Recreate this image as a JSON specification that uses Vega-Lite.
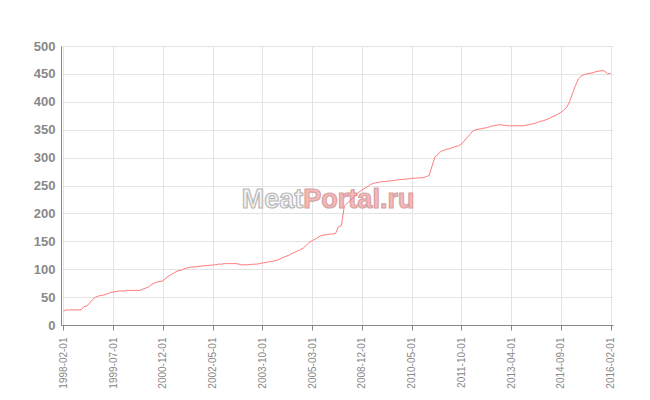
{
  "$schema": "https://vega.github.io/schema/vega-lite/v6.json",
  "width": 552,
  "height": 279,
  "autosize": {"type": "none"},
  "padding": {"left": 61, "top": 46, "right": 37, "bottom": 75},
  "background": "white",
  "config": {"view": {"stroke": null}, "font": "Liberation Sans"},
  "datasets": {
    "series": [
      {"d":"1998-02-01","v":25},{"d":"1998-03-01","v":27},{"d":"1998-04-01","v":27},{"d":"1998-05-01","v":27},{"d":"1998-06-01","v":27},{"d":"1998-07-01","v":27},{"d":"1998-08-01","v":27},{"d":"1998-09-01","v":33},{"d":"1998-10-01","v":34},{"d":"1998-11-01","v":40},{"d":"1998-12-01","v":46},
      {"d":"1999-01-01","v":50},{"d":"1999-02-01","v":52},{"d":"1999-03-01","v":53},{"d":"1999-04-01","v":54},{"d":"1999-05-01","v":56},{"d":"1999-06-01","v":58},{"d":"1999-07-01","v":59},{"d":"1999-08-01","v":60},{"d":"1999-09-01","v":61},{"d":"1999-10-01","v":61},{"d":"1999-11-01","v":61},{"d":"1999-12-01","v":62},
      {"d":"2000-01-01","v":62},{"d":"2000-02-01","v":62},{"d":"2000-03-01","v":62},{"d":"2000-04-01","v":62},{"d":"2000-05-01","v":64},{"d":"2000-06-01","v":66},{"d":"2000-07-01","v":68},{"d":"2000-08-01","v":72},{"d":"2000-09-01","v":75},{"d":"2000-10-01","v":77},{"d":"2000-11-01","v":78},{"d":"2000-12-01","v":79},
      {"d":"2001-01-01","v":84},{"d":"2001-02-01","v":88},{"d":"2001-03-01","v":91},{"d":"2001-04-01","v":94},{"d":"2001-05-01","v":97},{"d":"2001-06-01","v":98},{"d":"2001-07-01","v":100},{"d":"2001-08-01","v":102},{"d":"2001-09-01","v":103},{"d":"2001-10-01","v":104},{"d":"2001-11-01","v":104},{"d":"2001-12-01","v":105},
      {"d":"2002-01-01","v":105.5},{"d":"2002-02-01","v":106},{"d":"2002-03-01","v":106.5},{"d":"2002-04-01","v":107},{"d":"2002-05-01","v":107.5},{"d":"2002-06-01","v":108},{"d":"2002-07-01","v":109},{"d":"2002-08-01","v":109},{"d":"2002-09-01","v":110},{"d":"2002-10-01","v":110},{"d":"2002-11-01","v":110},{"d":"2002-12-01","v":110},
      {"d":"2003-01-01","v":110},{"d":"2003-02-01","v":109},{"d":"2003-03-01","v":107.5},{"d":"2003-04-01","v":108},{"d":"2003-05-01","v":108},{"d":"2003-06-01","v":108.5},{"d":"2003-07-01","v":109},{"d":"2003-08-01","v":109},{"d":"2003-09-01","v":110},{"d":"2003-10-01","v":111},{"d":"2003-11-01","v":112},{"d":"2003-12-01","v":113},
      {"d":"2004-01-01","v":114},{"d":"2004-02-01","v":115},{"d":"2004-03-01","v":116},{"d":"2004-04-01","v":118.5},{"d":"2004-05-01","v":121},{"d":"2004-06-01","v":123},{"d":"2004-07-01","v":125},{"d":"2004-08-01","v":128},{"d":"2004-09-01","v":130},{"d":"2004-10-01","v":133},{"d":"2004-11-01","v":135},{"d":"2004-12-01","v":138},
      {"d":"2005-01-01","v":143},{"d":"2005-02-01","v":148},{"d":"2005-03-01","v":151},{"d":"2005-04-01","v":154},{"d":"2005-05-01","v":157},{"d":"2005-06-01","v":160},{"d":"2005-07-01","v":161},{"d":"2005-08-01","v":162},{"d":"2005-09-01","v":163},{"d":"2005-10-01","v":163},{"d":"2005-11-01","v":164},{"d":"2005-12-01","v":176},
      {"d":"2006-01-01","v":178},
      {"d":"2008-06-01","v":213},{"d":"2008-07-01","v":218},{"d":"2008-08-01","v":223},{"d":"2008-09-01","v":228},{"d":"2008-10-01","v":233},{"d":"2008-11-01","v":238},{"d":"2008-12-01","v":242},
      {"d":"2009-01-01","v":245},{"d":"2009-02-01","v":248},{"d":"2009-03-01","v":252},{"d":"2009-04-01","v":254},{"d":"2009-05-01","v":255},{"d":"2009-06-01","v":256},{"d":"2009-07-01","v":257},{"d":"2009-08-01","v":257},{"d":"2009-09-01","v":258},{"d":"2009-10-01","v":258.5},{"d":"2009-11-01","v":259},{"d":"2009-12-01","v":260},
      {"d":"2010-01-01","v":260.5},{"d":"2010-02-01","v":261},{"d":"2010-03-01","v":261.5},{"d":"2010-04-01","v":262},{"d":"2010-05-01","v":263},{"d":"2010-06-01","v":263},{"d":"2010-07-01","v":263.5},{"d":"2010-08-01","v":264},{"d":"2010-09-01","v":264},{"d":"2010-10-01","v":266},{"d":"2010-11-01","v":268},{"d":"2010-12-01","v":285},
      {"d":"2011-01-01","v":301},{"d":"2011-02-01","v":306},{"d":"2011-03-01","v":311},{"d":"2011-04-01","v":313},{"d":"2011-05-01","v":315},{"d":"2011-06-01","v":316},{"d":"2011-07-01","v":318},{"d":"2011-08-01","v":320},{"d":"2011-09-01","v":321},{"d":"2011-10-01","v":324},{"d":"2011-11-01","v":330},{"d":"2011-12-01","v":336},
      {"d":"2012-01-01","v":342},{"d":"2012-02-01","v":348},{"d":"2012-03-01","v":350},{"d":"2012-04-01","v":351},{"d":"2012-05-01","v":352},{"d":"2012-06-01","v":353},{"d":"2012-08-01","v":354},{"d":"2012-09-01","v":356},{"d":"2012-10-01","v":357},{"d":"2012-11-01","v":358},{"d":"2012-12-01","v":359},
      {"d":"2013-01-01","v":358.5},{"d":"2013-02-01","v":357.5},{"d":"2013-03-01","v":357},{"d":"2013-04-01","v":357},{"d":"2013-05-01","v":357},{"d":"2013-06-01","v":357},{"d":"2013-07-01","v":357},{"d":"2013-08-01","v":357},{"d":"2013-09-01","v":358},{"d":"2013-10-01","v":359},{"d":"2013-11-01","v":360},{"d":"2013-12-01","v":361},
      {"d":"2014-01-01","v":363},{"d":"2014-02-01","v":365},{"d":"2014-03-01","v":366},{"d":"2014-04-01","v":368},{"d":"2014-05-01","v":370},{"d":"2014-06-01","v":373},{"d":"2014-07-01","v":375},{"d":"2014-08-01","v":378},{"d":"2014-09-01","v":381},{"d":"2014-10-01","v":385},{"d":"2014-11-01","v":390},{"d":"2014-12-01","v":400},
      {"d":"2015-01-01","v":415},{"d":"2015-02-01","v":429},{"d":"2015-03-01","v":441},{"d":"2015-04-01","v":446},{"d":"2015-05-01","v":449},{"d":"2015-06-01","v":450},{"d":"2015-07-01","v":451},{"d":"2015-08-01","v":452},{"d":"2015-09-01","v":454},{"d":"2015-10-01","v":455},{"d":"2015-11-01","v":456},{"d":"2015-12-01","v":455},
      {"d":"2016-01-01","v":450},{"d":"2016-02-01","v":451}
    ]
  },
  "data": {"name": "series"},
  "encoding": {
    "x": {
      "field": "d",
      "type": "ordinal",
      "sort": "ascending",
      "scale": {"type": "point", "padding": 0.85},
      "axis": {
        "title": null,
        "values": ["1998-02-01","1999-07-01","2000-12-01","2002-05-01","2003-10-01","2005-03-01","2008-12-01","2010-05-01","2011-10-01","2013-04-01","2014-09-01","2016-02-01"],
        "labelAngle": -90,
        "labelFontSize": 10,
        "labelColor": "#888888",
        "tickColor": "#888888",
        "domainColor": "#888888",
        "tickSize": 5,
        "labelPadding": 7,
        "grid": true,
        "gridColor": "#e3e3e3"
      }
    },
    "y": {
      "field": "v",
      "type": "quantitative",
      "scale": {"domain": [0, 500], "nice": false},
      "axis": {
        "title": null,
        "values": [0, 50, 100, 150, 200, 250, 300, 350, 400, 450, 500],
        "labelFontSize": 13,
        "labelFontWeight": "bold",
        "labelColor": "#888888",
        "ticks": false,
        "labelPadding": 6,
        "domainColor": "#888888",
        "grid": true,
        "gridColor": "#e3e3e3"
      }
    }
  },
  "layer": [
    {
      "transform": [{"filter": "datum.d == '2004-12-01'"}],
      "mark": {"type": "text", "align": "right", "baseline": "middle", "fontSize": 27, "fontWeight": "bold", "font": "Liberation Sans", "fill": "#f4f4f4", "stroke": "#b8b8b8", "strokeWidth": 1.2},
      "encoding": {
        "y": {"datum": 224, "type": "quantitative"},
        "text": {"value": "Meat"}
      }
    },
    {
      "transform": [{"filter": "datum.d == '2004-12-01'"}],
      "mark": {"type": "text", "align": "left", "baseline": "middle", "fontSize": 27, "fontWeight": "bold", "font": "Liberation Sans", "fill": "#f9b8b8", "stroke": "#d4a4a4", "strokeWidth": 1.2},
      "encoding": {
        "y": {"datum": 224, "type": "quantitative"},
        "text": {"value": "Portal.ru"}
      }
    },
    {
      "mark": {"type": "line", "color": "#ff7a7a", "strokeWidth": 1},
      "encoding": {}
    }
  ]
}
